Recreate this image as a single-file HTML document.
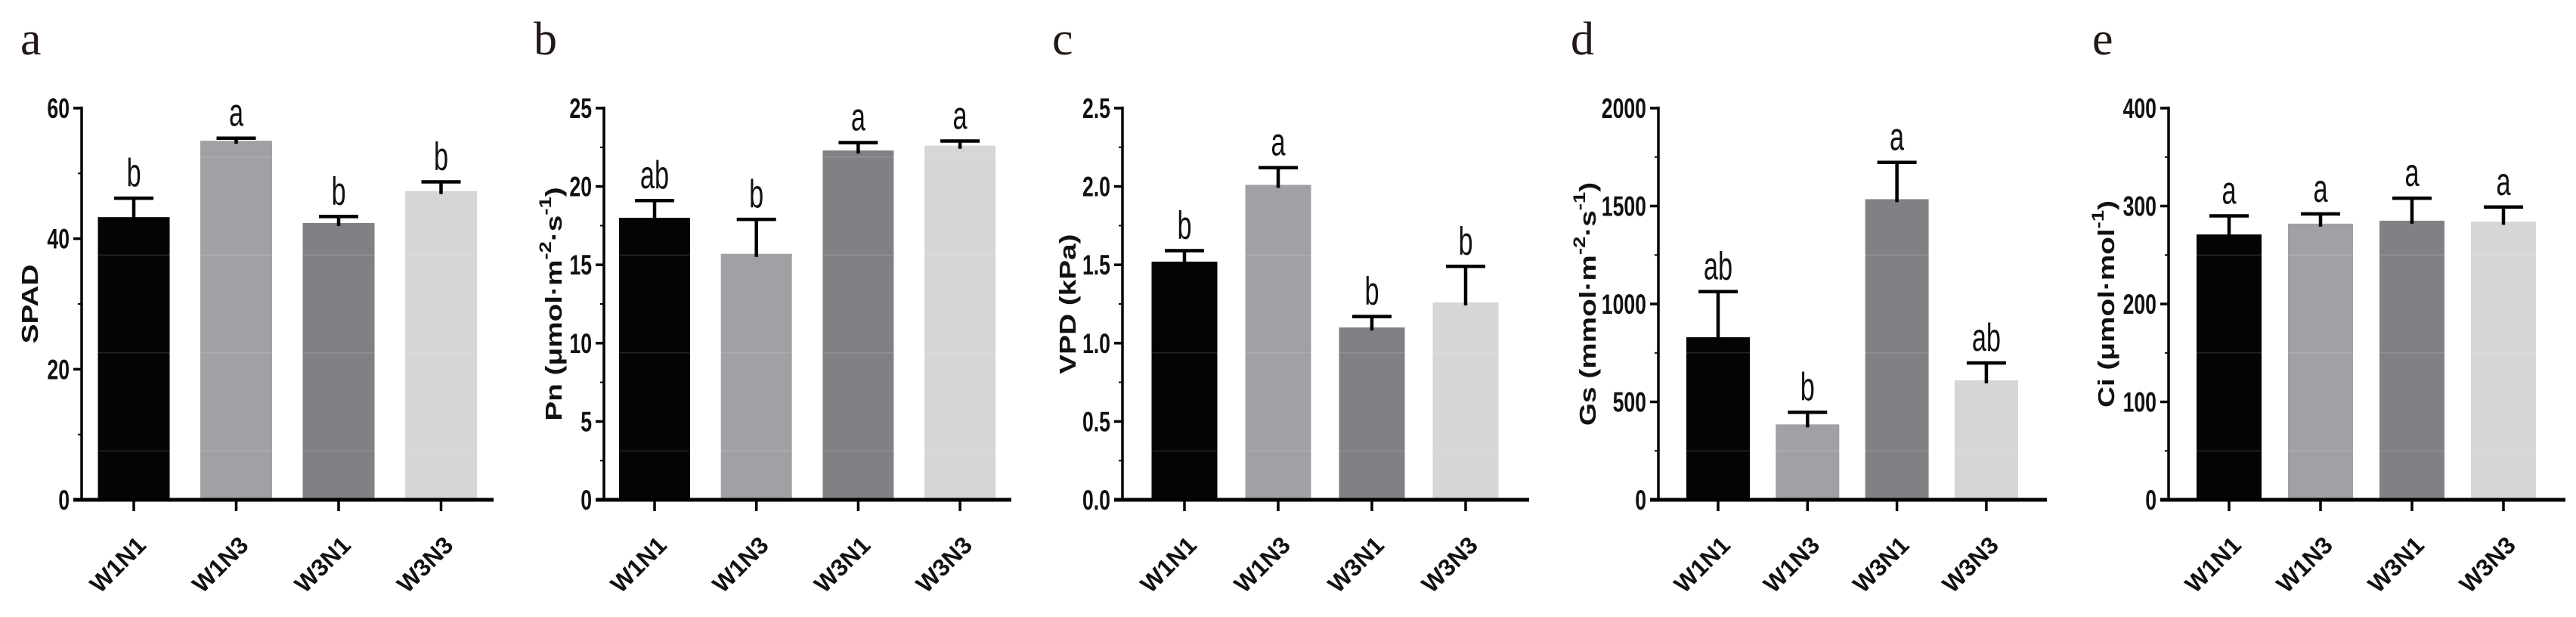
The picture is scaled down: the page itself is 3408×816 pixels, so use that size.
<!DOCTYPE html>
<html><head><meta charset="utf-8"><style>
html,body{margin:0;padding:0;background:#fff;}
svg{display:block;}
.tk{font-family:"Liberation Sans",sans-serif;font-weight:bold;font-size:37px;fill:#111;}
.sig{font-family:"Liberation Sans",sans-serif;font-size:52px;fill:#111;}
.yt{font-family:"Liberation Sans",sans-serif;font-weight:bold;font-size:31px;fill:#111;}
.xl{font-family:"Liberation Sans",sans-serif;font-weight:bold;font-size:32px;fill:#111;}
.pl{font-family:"Liberation Serif",serif;font-size:62px;fill:#231815;}
</style></head><body>
<svg id="chart" width="3408" height="816" viewBox="0 0 3408 816" xmlns="http://www.w3.org/2000/svg"></svg>
<script>
const categories = ["W1N1","W1N3","W3N1","W3N3"];
const spadValues = [43.3, 55.0, 42.4, 47.3];
const spadErrors = [2.9, 0.4, 1.0, 1.4];
const spadSig = ["b","a","b","b"];
const spadTicks = [0,20,40,60];
const pnValues = [18.0, 15.7, 22.3, 22.6];
const pnErrors = [1.1, 2.2, 0.5, 0.3];
const pnSig = ["ab","b","a","a"];
const pnTicks = [0,5,10,15,20,25];
const vpdValues = [1.52, 2.01, 1.10, 1.26];
const vpdErrors = [0.07, 0.11, 0.07, 0.23];
const vpdSig = ["b","a","b","b"];
const vpdTicks = ["0.0","0.5","1.0","1.5","2.0","2.5"];
const gsValues = [830, 385, 1535, 610];
const gsErrors = [233, 62, 188, 89];
const gsSig = ["ab","b","a","ab"];
const gsTicks = [0,500,1000,1500,2000];
const ciValues = [271, 282, 285, 284];
const ciErrors = [19, 10, 23, 15];
const ciSig = ["a","a","a","a"];
const ciTicks = [0,100,200,300,400];

const colors = ["#060303","#a0a1a5","#808184","#d5d6d6"];
const NS = "http://www.w3.org/2000/svg";
const svg = document.getElementById("chart");
function mk(tag, attrs, parent){const e=document.createElementNS(NS,tag);for(const k in attrs)e.setAttribute(k,attrs[k]);(parent||svg).appendChild(e);return e;}

const sup2 = "<tspan dy='-14' font-size='22'>-2</tspan><tspan dy='14'>·s</tspan><tspan dy='-14' font-size='22'>-1</tspan><tspan dy='14'>)</tspan>";
const panels = [
 {id:"a", title:"SPAD", vals:spadValues, errs:spadErrors, sig:spadSig, ticks:spadTicks, max:60, ax:108, xend:653, barW:95, c0:177, step:135.5, letterX:27, titleX:50},
 {id:"b", title:"Pn (μmol·m"+sup2, vals:pnValues, errs:pnErrors, sig:pnSig, ticks:pnTicks, max:25, ax:799, xend:1338, barW:94, c0:866, step:134.7, letterX:706, titleX:743},
 {id:"c", title:"VPD (kPa)", vals:vpdValues, errs:vpdErrors, sig:vpdSig, ticks:vpdTicks, max:2.5, ax:1485, xend:2023, barW:87, c0:1567, step:124, letterX:1392, titleX:1423},
 {id:"d", title:"Gs (mmol·m"+sup2, vals:gsValues, errs:gsErrors, sig:gsSig, ticks:gsTicks, max:2000, ax:2194, xend:2708, barW:84, c0:2273, step:118.3, letterX:2078, titleX:2111},
 {id:"e", title:"Ci (μmol·mol<tspan dy='-14' font-size='22'>-1</tspan><tspan dy='14'>)</tspan>", vals:ciValues, errs:ciErrors, sig:ciSig, ticks:ciTicks, max:400, ax:2869, xend:3394, barW:86, c0:2949, step:121, letterX:2768, titleX:2797}
];
const yTop = 143, yZero = 661;

panels.forEach(p=>{
  const g = mk("g",{});
  
  
  const y = v => yZero - (v/p.max)*(yZero-yTop);
  const lt = mk("text",{x:p.letterX,y:72,class:"pl"},g);
  lt.textContent = p.id;
  
  
  p.vals.forEach((v,i)=>{
    const cx = p.c0 + i*p.step;
    const r = mk("rect",{x:cx-p.barW/2,y:y(v),width:p.barW,height:yZero-y(v),fill:colors[i]},g);
    
    
    [0.125,0.375,0.625,0.875].forEach(f=>{
      const yy = yZero - f*(yZero-yTop);
      if (yy > y(v)+2) mk("line",{x1:cx-p.barW/2,x2:cx+p.barW/2,y1:yy,y2:yy,stroke:"#fff","stroke-opacity":0.2,"stroke-width":1},g);
    });
    const et = y(v+p.errs[i]);
    const eb = mk("path",{d:`M${cx} ${y(v)+4}V${et}M${cx-26} ${et}H${cx+26}`,stroke:"#000","stroke-width":4.5,fill:"none"},g);
    
    
    const s = mk("text",{transform:`translate(${cx},${et-16}) scale(0.66,1)`,"text-anchor":"middle",class:"sig"},g);
    s.textContent = p.sig[i];
    
    
    mk("line",{x1:cx,x2:cx,y1:yZero,y2:yZero+15,stroke:"#000","stroke-width":3.5},g);
    const xl = mk("text",{transform:`translate(${cx+18},${yZero+62}) rotate(-45)`,"text-anchor":"end",class:"xl"},g);
    xl.textContent = categories[i];
    
    
  });
  const ya = mk("line",{x1:p.ax,x2:p.ax,y1:yTop-2,y2:yZero+2,stroke:"#000","stroke-width":3.5},g);
  
  
  const xa = mk("line",{x1:p.ax-11,x2:p.xend,y1:yZero,y2:yZero,stroke:"#000","stroke-width":5},g);
  
  
  p.ticks.forEach(t=>{
    const yy = y(parseFloat(t));
    mk("line",{x1:p.ax-11,x2:p.ax,y1:yy,y2:yy,stroke:"#000","stroke-width":3.5},g);
    const tl = mk("text",{transform:`translate(${p.ax-16},${yy+13}) scale(0.72,1)`,"text-anchor":"end",class:"tk"},g);
    tl.textContent = t;
    
    
  });
  for(let k=0;k<p.ticks.length-1;k++){
    const yy=(y(parseFloat(p.ticks[k]))+y(parseFloat(p.ticks[k+1])))/2;
    mk("line",{x1:p.ax-5,x2:p.ax,y1:yy,y2:yy,stroke:"#000","stroke-width":2},g);
  }
  const yt = mk("text",{transform:`translate(${p.titleX},${(yTop+yZero)/2}) rotate(-90) scale(1.25,1)`,"text-anchor":"middle",class:"yt"},g);
  yt.innerHTML = p.title;
  
  
});
</script>
</body></html>
